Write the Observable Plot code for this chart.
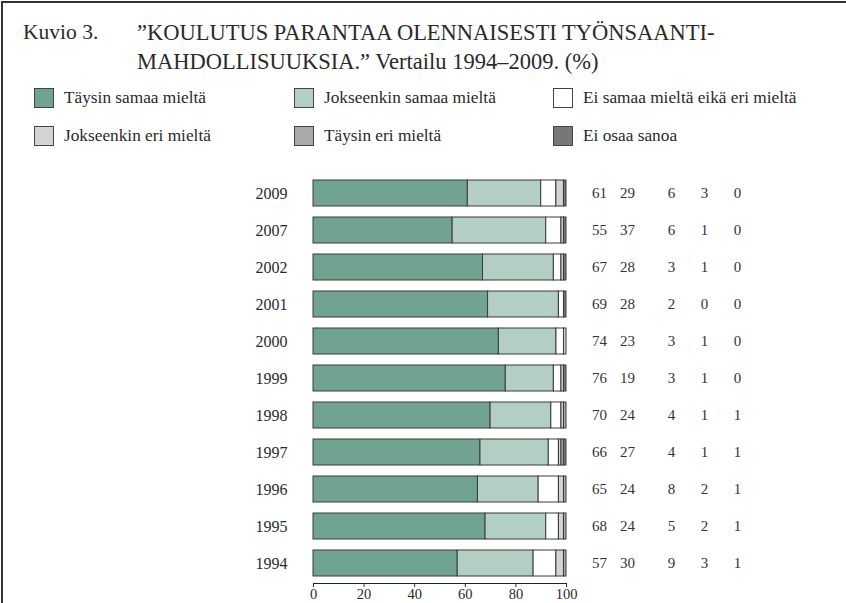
<!DOCTYPE html>
<html>
<head>
<meta charset="utf-8">
<script src="https://cdn.jsdelivr.net/npm/d3@7"></script>
<script src="https://cdn.jsdelivr.net/npm/@observablehq/plot@0.6"></script>
<style>
  body { margin: 0; background: #fff; }
  #fig { position: relative; width: 846px; height: 603px; overflow: hidden; font-family: "Liberation Serif", "DejaVu Serif", serif; color: #2a2a2a; }
  #border { position: absolute; left: 1px; top: 1px; width: 900px; height: 700px; border-left: 2px solid #333; border-top: 2px solid #333; }
  .t { position: absolute; font-family: "Liberation Serif", serif; font-size: 22.5px; white-space: nowrap; line-height: 1; }
  .leg { position: absolute; display: flex; align-items: center; font-family: "Liberation Serif", serif; font-size: 17.3px; white-space: nowrap; }
  .sw { width: 18px; height: 18px; border: 1px solid #444; margin-right: 10px; box-sizing: content-box; }
  #chart { position: absolute; left: 0; top: 0; }
</style>
</head>
<body>
<div id="fig">
  <div id="border"></div>
  <div class="t" style="left:23px; top:22px; font-size:21.5px;">Kuvio 3.</div>
  <div class="t" style="left:137px; top:22px;">”KOULUTUS PARANTAA OLENNAISESTI TYÖNSAANTI-</div>
  <div class="t" style="left:137px; top:51px;">MAHDOLLISUUKSIA.” Vertailu 1994–2009. (%)</div>
  <div id="legend"></div>
  <div id="chart"></div>
</div>
<script>
const years = ["2009","2007","2002","2001","2000","1999","1998","1997","1996","1995","1994"];
const categories = ["Täysin samaa mieltä","Jokseenkin samaa mieltä","Ei samaa mieltä eikä eri mieltä","Jokseenkin eri mieltä","Täysin eri mieltä","Ei osaa sanoa"];
const taysinSamaa     = [61,55,67,69,74,76,70,66,65,68,57];
const jokseenkinSamaa = [29,37,28,28,23,19,24,27,24,24,30];
const eiSamaaEikaEri  = [6,6,3,2,3,3,4,4,8,5,9];
const jokseenkinEri   = [3,1,1,0,1,1,1,1,2,2,3];
const taysinEri       = [0,0,0,0,0,0,1,1,1,1,1];
const eiOsaaSanoa     = [1,1,1,1,0,1,0,1,0,0,0];
const colors = ["#70a490","#b3cfc4","#ffffff","#d4d4d6","#a9a9ab","#77777a"];
const xTicks = [0,20,40,60,80,100];

const series = [taysinSamaa, jokseenkinSamaa, eiSamaaEikaEri, jokseenkinEri, taysinEri, eiOsaaSanoa];
const data = [];
years.forEach((y, i) => categories.forEach((c, j) => data.push({year: y, category: c, value: series[j][i]})));
const rows = years.map((y, i) => ({year: y, vals: series.map(s => s[i])}));

// legend (2 rows x 3 columns)
const legPos = [[34,88],[294,88],[553,88],[34,126],[294,126],[553,126]];
const legend = document.getElementById("legend");
categories.forEach((c, j) => {
  const el = document.createElement("div");
  el.className = "leg";
  el.style.left = legPos[j][0] + "px";
  el.style.top = legPos[j][1] + "px";
  el.style.height = "20px";
  el.innerHTML = `<div class="sw" style="background:${colors[j]}"></div><span>${c}</span>`;
  legend.appendChild(el);
});

const colOffsets = [33, 61, 105, 138, 171];
const numberMarks = colOffsets.map((dx, j) =>
  Plot.text(rows, {y: "year", text: d => d.vals[j], frameAnchor: "right", dx, textAnchor: "middle", fontSize: 15, fill: "#333"})
);

const chart = Plot.plot({
  width: 846,
  height: 603,
  marginLeft: 313,
  marginRight: 280,
  marginTop: 173,
  marginBottom: 20,
  style: {fontFamily: "Liberation Serif", fontSize: "16px", color: "#2a2a2a", background: "transparent"},
  x: {percent: true, domain: [0, 100], label: null},
  y: {domain: years, paddingInner: 0.305, paddingOuter: 0.134, label: null},
  color: {domain: categories, range: colors},
  marks: [
    Plot.barX(data, Plot.stackX({x: "value", y: "year", fill: "category", order: categories, offset: "normalize", stroke: "#3a3a3a", strokeWidth: 1})),
    Plot.frame({anchor: "bottom", stroke: "#222"}),
    Plot.axisX({ticks: xTicks, tickSize: 4, tickPadding: 1, fontSize: 14.5, label: null, tickFormat: d => d}),
    Plot.axisY({tickSize: 0, tickPadding: 26, fontSize: 16, label: null}),
    ...numberMarks
  ]
});
document.getElementById("chart").appendChild(chart);
</script>
</body>
</html>
